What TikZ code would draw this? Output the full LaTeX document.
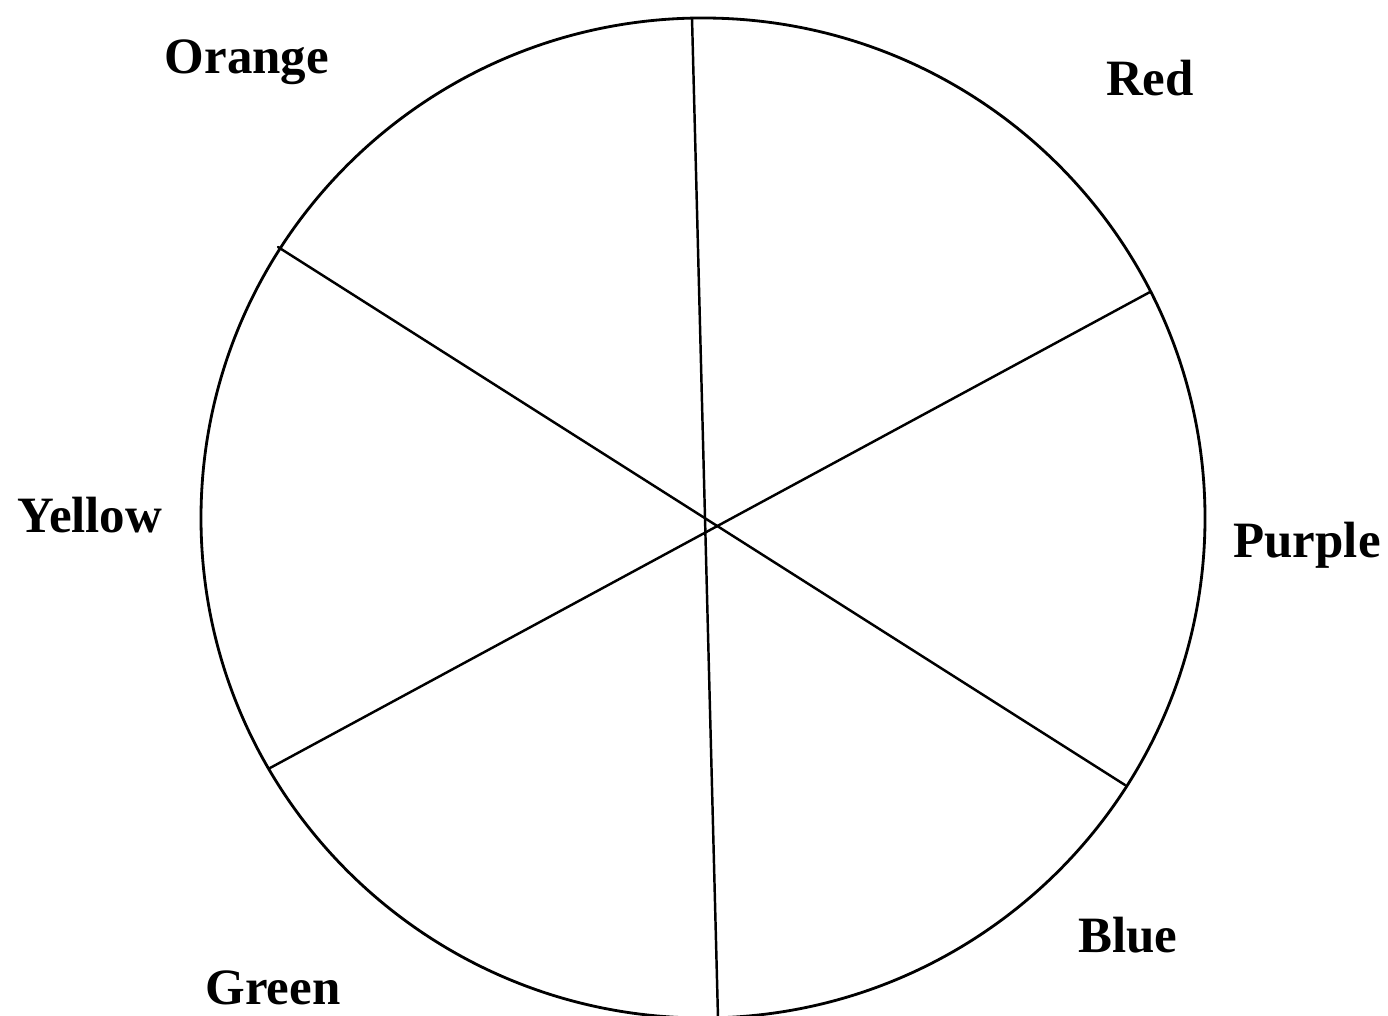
\documentclass[tikz,border=0pt]{standalone}
\usepackage{fontspec}
\setmainfont{Liberation Serif}
\usetikzlibrary{positioning}

\begin{document}
\begin{tikzpicture}[x=0.02cm,y=-0.02cm,line cap=round,
    wheel/.style={draw=black,line width=1.6pt},
    spoke/.style={draw=black,line width=1.4pt},
    hue/.style={font=\fontsize{29}{34}\bfseries\selectfont,inner sep=0pt}]
  \useasboundingbox (0,0) rectangle (1388,1016);
  % the wheel
  \draw[wheel] (703,518) ellipse[x radius=502,y radius=500];
  % spoke ends on the rim
  \coordinate (top)    at (692,18);
  \coordinate (bottom) at (718,1018);
  \coordinate (ul)     at (278,247);
  \coordinate (lr)     at (1125,785);
  \coordinate (ur)     at (1150,292);
  \coordinate (ll)     at (270,768);
  \draw[spoke] (top) -- (bottom);
  \draw[spoke] (ul) -- (lr);
  \draw[spoke] (ur) -- (ll);
  % colour names
  \node[hue] (orange) at (247,62)  {Orange};
  \node[hue] (red)    at (1150,78) {Red};
  \node[hue] (yellow) at (90,515)  {Yellow};
  \node[hue] (purple) at (1307,545) {Purple};
  \node[hue] (blue)   at (1128,935) {Blue};
  \node[hue] (green)  at (273,988) {Green};
\end{tikzpicture}
\end{document}
